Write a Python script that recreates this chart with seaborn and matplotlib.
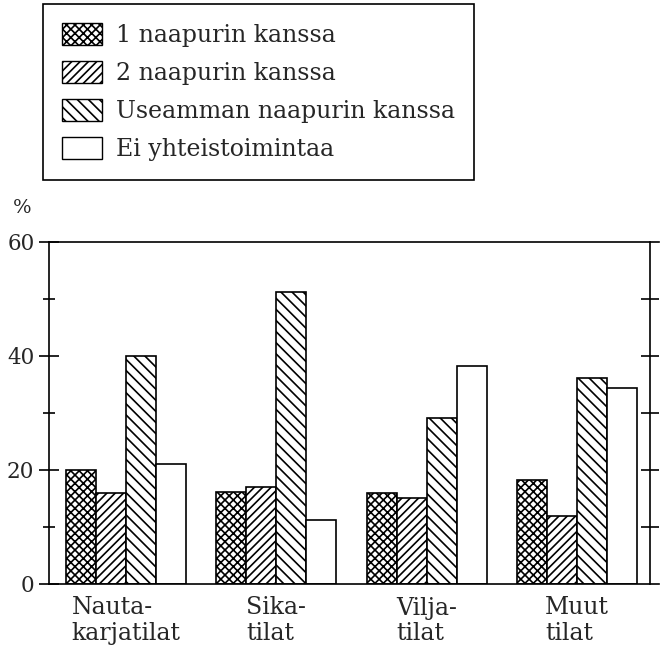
import matplotlib
matplotlib.use("Agg")
import matplotlib.pyplot as plt
from matplotlib.patches import Patch
import seaborn as sns
import pandas as pd

categories = ["Nauta-\nkarjatilat", "Sika-\ntilat", "Vilja-\ntilat", "Muut\ntilat"]
series = ["1 naapurin kanssa", "2 naapurin kanssa",
          "Useamman naapurin kanssa", "Ei yhteistoimintaa"]
one_neighbour = [20.0, 16.1, 16.0, 18.2]
two_neighbours = [15.9, 17.1, 15.1, 12.0]
several_neighbours = [40.0, 51.2, 29.2, 36.2]
no_cooperation = [21.1, 11.2, 38.3, 34.3]
yticks_major = [0, 20, 40, 60]
yticks_minor = [10, 30, 50]

values = [one_neighbour, two_neighbours, several_neighbours, no_cooperation]
df = pd.DataFrame({
    "category": [c for s in series for c in categories],
    "series": [s for s in series for c in categories],
    "value": [v for vals in values for v in vals],
})

sns.set_style("ticks")
plt.rcParams["font.family"] = ["DejaVu Serif"]
plt.rcParams["hatch.linewidth"] = 1.2
plt.rcParams["hatch.color"] = "black"

fig = plt.figure(figsize=(6.6, 6.49), dpi=100)
ax = fig.add_axes([49 / 660, 65 / 649, 610 / 660, 342 / 649])

sns.barplot(data=df, x="category", y="value", hue="series",
            order=categories, hue_order=series,
            palette={s: "white" for s in series}, saturation=1,
            edgecolor="black", linewidth=1.2, width=0.8,
            legend=False, ax=ax)

hatches = ["xxxx", "////", "\\\\\\", ""]
for cont, h in zip(ax.containers, hatches):
    for bar in cont:
        bar.set_hatch(h)
        bar.set_edgecolor("black")

ax.set_xlim(-0.512, 3.545)
ax.set_ylim(0, 60)
ax.set_xlabel("")
ax.set_ylabel("")

for side in ["left", "top", "bottom"]:
    ax.spines[side].set_color("black")
    ax.spines[side].set_linewidth(1.2)
ax.spines["right"].set_visible(False)

ax.set_yticks(yticks_major)
ax.set_yticks(yticks_minor, minor=True)
ax.tick_params(axis="y", which="major", direction="inout", length=15,
               width=1.2, labelsize=15.5, pad=3, color="black")
ax.tick_params(axis="y", which="minor", direction="inout", length=9,
               width=1.2, color="black")
ax.tick_params(axis="x", length=0, pad=9, labelsize=17)
for lbl in ax.get_xticklabels():
    lbl.set_multialignment("left")
    lbl.set_linespacing(1.15)

sec = ax.secondary_yaxis(601 / 610)
sec.set_yticks([10, 20, 30, 40, 50])
sec.set_yticklabels([])
sec.tick_params(direction="inout", length=13, width=1.2, color="black")
sec.spines["right"].set_linewidth(1.2)
sec.spines["right"].set_color("black")

fig.text(22 / 660, 1 - 208 / 649, "%", ha="center", va="center", fontsize=14)

handles = [Patch(facecolor="white", edgecolor="black", hatch=h, label=s,
                 linewidth=1.0) for s, h in zip(series, hatches)]
leg = fig.legend(handles=handles, loc="upper left",
                 bbox_to_anchor=(43 / 660, 1 - 4 / 649),
                 bbox_transform=fig.transFigure, fontsize=17,
                 frameon=True, fancybox=False, framealpha=1,
                 edgecolor="black", borderpad=0.8, labelspacing=0.6,
                 handlelength=1.7, handleheight=1.05, handletextpad=0.6,
                 borderaxespad=0)
leg.get_frame().set_linewidth(1.2)

fig.savefig("out.png", dpi=100)
